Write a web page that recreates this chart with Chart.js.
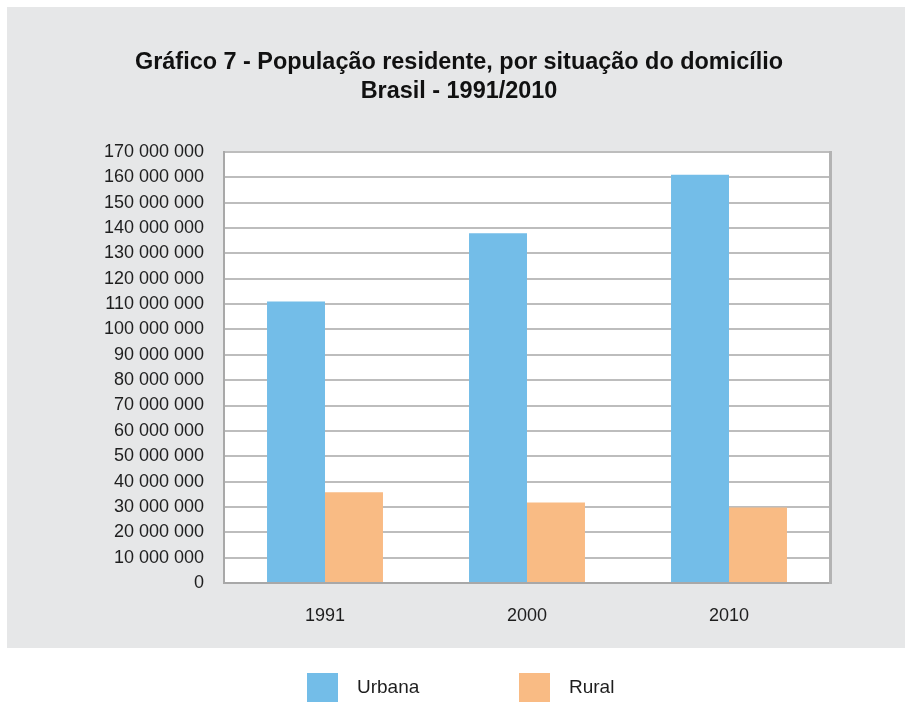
<!DOCTYPE html>
<html>
<head>
<meta charset="utf-8">
<script src="https://cdn.jsdelivr.net/npm/chart.js@4/dist/chart.umd.min.js"></script>
<style>
    html, body {margin: 0; padding: 0; background: #ffffff;}
</style>
</head>
<body>
<canvas id="grafico" width="905" height="702"></canvas>
<script>
// Dados
const anos = ['1991', '2000', '2010'];
const urbana = [111000000, 138000000, 161000000];
const rural = [35800000, 31800000, 29800000];
const titulo = ['Gráfico 7 - População residente, por situação do domicílio', 'Brasil - 1991/2010'];
const eixoMax = 170000000;
const eixoPasso = 10000000;

const corUrbana = '#73bde8';
const corRural = '#f9bb84';
const corTexto = '#1e1e1e';
const fonte = '"Liberation Sans", Arial, Helvetica, sans-serif';

// 170000000 -> "170 000 000"
function formatar(v) {
    return String(v).replace(/\B(?=(\d{3})+(?!\d))/g, ' ');
}

// Fundo cinza, área branca, bordas, titulo e legenda
const fundo = {
    id: 'fundo',
    beforeDraw(chart) {
        const ctx = chart.ctx, a = chart.chartArea;
        ctx.save();
        ctx.fillStyle = '#e6e7e8';
        ctx.fillRect(7, 7, 905 - 7, 648 - 7);
        ctx.fillStyle = '#ffffff';
        ctx.fillRect(a.left, a.top, a.right - a.left, a.bottom - a.top);
        ctx.restore();
    },
    afterDraw(chart) {
        const ctx = chart.ctx, a = chart.chartArea;
        ctx.save();
        // borda direita
        ctx.strokeStyle = '#b3b3b3';
        ctx.lineWidth = 3;
        ctx.beginPath();
        ctx.moveTo(a.right + 0.5, a.top - 1);
        ctx.lineTo(a.right + 0.5, a.bottom + 1);
        ctx.stroke();

        // titulo (fonte condensada no original -> ajusta a largura)
        ctx.fillStyle = '#111111';
        ctx.textAlign = 'center';
        ctx.textBaseline = 'alphabetic';
        ctx.font = 'bold 23px ' + fonte;
        const largura = ctx.measureText(titulo[0]).width;
        const escala = 648 / largura;
        titulo.forEach(function (linha, i) {
            ctx.save();
            ctx.translate(459, 69 + i * 29);
            ctx.scale(escala, 1);
            ctx.fillText(linha, 0, 0);
            ctx.restore();
        });

        // legenda
        const posicoes = [307, 519];
        ctx.font = '19px ' + fonte;
        ctx.textAlign = 'left';
        ctx.textBaseline = 'middle';
        chart.data.datasets.forEach(function (ds, i) {
            ctx.fillStyle = ds.backgroundColor;
            ctx.fillRect(posicoes[i], 673, 31, 31);
            ctx.fillStyle = corTexto;
            ctx.fillText(ds.label, posicoes[i] + 50, 688);
        });
        ctx.restore();
    }
};

const config = {
    type: 'bar',
    data: {
        labels: anos,
        datasets: [{
            label: 'Urbana',
            data: urbana,
            backgroundColor: corUrbana,
            categoryPercentage: 0.574,
            barPercentage: 1
        }, {
            label: 'Rural',
            data: rural,
            backgroundColor: corRural,
            categoryPercentage: 0.574,
            barPercentage: 1
        }]
    },
    options: {
        responsive: false,
        animation: false,
        layout: {padding: {top: 152, left: 0, right: 75, bottom: 79}},
        plugins: {
            legend: {display: false},
            title: {display: false},
            tooltip: {enabled: false}
        },
        scales: {
            x: {
                grid: {display: false},
                border: {display: true, color: '#a8a8a8', width: 2},
                ticks: {color: corTexto, font: {family: fonte, size: 18}, padding: 14},
                afterFit(scale) { scale.height = 40; }
            },
            y: {
                min: 0, max: eixoMax,
                grid: {color: '#bdbdbd', lineWidth: 2, drawTicks: false},
                border: {display: true, color: '#a8a8a8', width: 2},
                ticks: {
                    stepSize: eixoPasso, color: corTexto, padding: 20,
                    font: {family: fonte, size: 18},
                    callback: function (v) { return formatar(v); }
                },
                afterFit(scale) { scale.width = 224; }
            }
        }
    },
    plugins: [fundo]
};

const grafico = new Chart(document.getElementById('grafico'), config);
</script>
</body>
</html>
